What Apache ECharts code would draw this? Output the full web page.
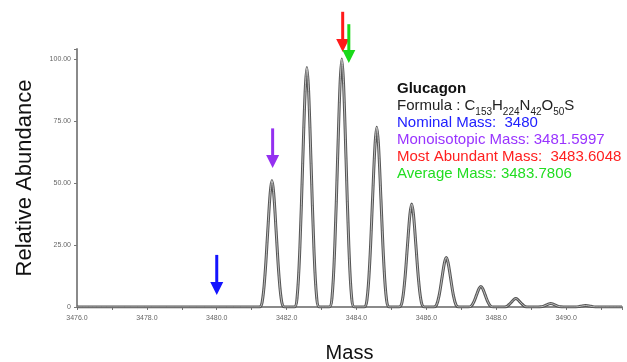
<!DOCTYPE html>
<html>
<head>
<meta charset="utf-8">
<script src="https://cdn.jsdelivr.net/npm/echarts@6/dist/echarts.min.js"></script>
<style>html,body{margin:0;padding:0;background:#fff;}#c{width:627px;height:362px;}</style>
</head>
<body>
<div id="c"></div>
<script>
// Mass values of the isotope profile
var spectrum = [
  [3476.0, 0],
  [3481.22, 0], [3481.30, 2.0], [3481.38, 12.8], [3481.46, 30.6], [3481.53, 45.9], [3481.58, 51], [3481.63, 45.9], [3481.70, 30.6], [3481.78, 12.8], [3481.86, 2.0], [3481.94, 0],
  [3482.22, 0], [3482.30, 3.9], [3482.38, 24.1], [3482.46, 57.9], [3482.53, 86.9], [3482.58, 96.5], [3482.63, 86.9], [3482.70, 57.9], [3482.78, 24.1], [3482.86, 3.9], [3482.94, 0],
  [3483.22, 0], [3483.30, 4.0], [3483.38, 25.0], [3483.46, 60.0], [3483.53, 90.0], [3483.58, 100], [3483.63, 90.0], [3483.70, 60.0], [3483.78, 25.0], [3483.86, 4.0], [3483.94, 0],
  [3484.22, 0], [3484.30, 2.9], [3484.38, 18.1], [3484.46, 43.5], [3484.53, 65.3], [3484.58, 72.5], [3484.63, 65.3], [3484.70, 43.5], [3484.78, 18.1], [3484.86, 2.9], [3484.94, 0],
  [3485.22, 0], [3485.30, 1.7], [3485.38, 10.4], [3485.46, 24.9], [3485.53, 37.4], [3485.58, 41.5], [3485.63, 37.4], [3485.70, 24.9], [3485.78, 10.4], [3485.86, 1.7], [3485.94, 0],
  [3486.21, 0], [3486.29, 0.8], [3486.37, 5.0], [3486.45, 12.0], [3486.52, 18.0], [3486.57, 20], [3486.62, 18.0], [3486.69, 12.0], [3486.77, 5.0], [3486.85, 0.8], [3486.93, 0],
  [3487.20, 0], [3487.28, 0.3], [3487.36, 2.1], [3487.44, 5.0], [3487.51, 7.5], [3487.56, 8.3], [3487.61, 7.5], [3487.68, 5.0], [3487.76, 2.1], [3487.84, 0.3], [3487.92, 0],
  [3488.20, 0], [3488.28, 0.1], [3488.36, 0.9], [3488.44, 2.0], [3488.51, 3.1], [3488.56, 3.4], [3488.61, 3.1], [3488.68, 2.0], [3488.76, 0.9], [3488.84, 0.1], [3488.92, 0],
  [3489.20, 0], [3489.28, 0.06], [3489.36, 0.35], [3489.44, 0.84], [3489.51, 1.26], [3489.56, 1.4], [3489.61, 1.26], [3489.68, 0.84], [3489.76, 0.35], [3489.84, 0.06], [3489.92, 0],
  [3490.20, 0], [3490.28, 0.02], [3490.36, 0.15], [3490.44, 0.36], [3490.51, 0.54], [3490.56, 0.6], [3490.61, 0.54], [3490.68, 0.36], [3490.76, 0.15], [3490.84, 0.02], [3490.92, 0],
  [3491.6, 0]
];

// Arrows: mass, top of shaft, tip (relative abundance units)
var arrowMass = [3480.0, 3481.5997, 3483.6048, 3483.7806];
var arrowTop  = [21, 72, 119, 114];
var arrowTip  = [4.8, 56, 102.8, 98.4];
var arrowColors = ['#1414ff', '#9430f0', '#ff1a1a', '#19d919'];

// Annotation texts
var compoundName = 'Glucagon';
var formulaParts = [['C', '153'], ['H', '224'], ['N', '42'], ['O', '50'], ['S', '']];
var massLines = [
  ['nom', 'Nominal Mass:  3480'],
  ['mono', 'Monoisotopic Mass: 3481.5997'],
  ['most', 'Most Abundant Mass:  3483.6048'],
  ['avg', 'Average Mass: 3483.7806']
];

var xMin = 3476, xMax = 3491.6, yMin = 0, yMax = 104;

var chart = echarts.init(document.getElementById('c'), null, {renderer: 'canvas'});

var arrowData = arrowMass.map(function (m, i) { return [m, arrowTop[i], arrowTip[i], i]; });

var formulaRich = '{blk|Formula : }' + formulaParts.map(function (p) {
  return '{blk|' + p[0] + '}' + (p[1] ? '{sub|' + p[1] + '}' : '');
}).join('');

var textStr = '{name|' + compoundName + '}\n' + formulaRich + '\n' +
  massLines.map(function (l) { return '{' + l[0] + '|' + l[1] + '}'; }).join('\n');

var font = 'Liberation Sans, Arial, Helvetica, sans-serif';

chart.setOption({
  animation: false,
  backgroundColor: '#ffffff',
  grid: {left: 77, right: 5, top: 49, bottom: 55, containLabel: false, outerBoundsMode: 'none'},
  xAxis: {
    type: 'value', min: xMin, max: xMax, interval: 1,
    name: 'Mass', nameLocation: 'middle', nameGap: 36,
    nameTextStyle: {fontSize: 20, color: '#111', fontFamily: font},
    axisLine: {lineStyle: {color: '#8a8a8a', width: 2}},
    axisTick: {show: true, length: 3, lineStyle: {color: '#777', width: 1}},
    splitLine: {show: false},
    axisLabel: {
      fontSize: 7, color: '#666', fontFamily: font, margin: 8,
      formatter: function (v) { return (Math.abs(v % 2) < 1e-6 && v <= 3490) ? v.toFixed(1) : ''; }
    }
  },
  yAxis: {
    type: 'value', min: yMin, max: yMax, interval: 25,
    name: 'Relative Abundance', nameLocation: 'middle', nameGap: 41,
    nameTextStyle: {fontSize: 22, color: '#111', fontFamily: font},
    axisLine: {show: true, lineStyle: {color: '#8a8a8a', width: 2}},
    axisTick: {show: true, length: 3, lineStyle: {color: '#777', width: 1}},
    splitLine: {show: false},
    axisLabel: {
      fontSize: 7, color: '#666', fontFamily: font, margin: 6,
      formatter: function (v) {
        if (v === 0) return '0';
        return (v % 25 === 0) ? v.toFixed(2) : '';
      }
    }
  },
  series: [
    {
      type: 'line', data: spectrum, showSymbol: false, smooth: 0.35,
      lineStyle: {color: '#555', width: 3}, z: 2, silent: true
    },
    {
      type: 'line', data: spectrum, showSymbol: false, smooth: 0.35,
      lineStyle: {color: '#d8d8d8', width: 0.8}, z: 3, silent: true
    },
    {
      type: 'custom', data: arrowData, clip: false, z: 5, silent: true,
      renderItem: function (params, api) {
        var top = api.coord([api.value(0), api.value(1)]);
        var tip = api.coord([api.value(0), api.value(2)]);
        var col = arrowColors[api.value(3)];
        var headH = 13, headW = 13;
        return {
          type: 'group',
          children: [
            {type: 'line', shape: {x1: top[0], y1: top[1], x2: tip[0], y2: tip[1] - headH + 1},
             style: {stroke: col, lineWidth: 3}},
            {type: 'polygon', shape: {points: [[tip[0] - headW / 2, tip[1] - headH], [tip[0] + headW / 2, tip[1] - headH], [tip[0], tip[1]]]},
             style: {fill: col}}
          ]
        };
      }
    }
  ],
  graphic: [
    {
      type: 'text', left: 397, top: 81, z: 10,
      style: {
        text: textStr,
        fontFamily: font,
        rich: {
          name: {fontSize: 15, fontWeight: 'bold', fill: '#111', color: '#111', lineHeight: 17, fontFamily: font},
          blk: {fontSize: 15, fill: '#222', color: '#222', lineHeight: 17, fontFamily: font},
          sub: {fontSize: 10, fill: '#222', color: '#222', lineHeight: 17, verticalAlign: 'bottom', padding: [0, 0, -3, 0], fontFamily: font},
          nom: {fontSize: 15, fill: '#2020ff', color: '#2020ff', lineHeight: 17, fontFamily: font},
          mono: {fontSize: 15, fill: '#9933ff', color: '#9933ff', lineHeight: 17, fontFamily: font},
          most: {fontSize: 15, fill: '#ff2020', color: '#ff2020', lineHeight: 17, fontFamily: font},
          avg: {fontSize: 15, fill: '#22dd22', color: '#22dd22', lineHeight: 17, fontFamily: font}
        }
      }
    }
  ]
});
</script>
</body>
</html>
